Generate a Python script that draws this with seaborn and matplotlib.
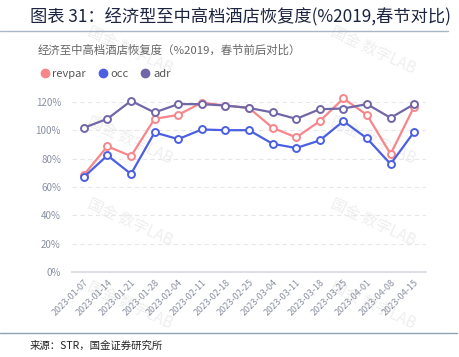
"""Recovery of economy to upper-midscale hotels vs 2019 (Spring Festival aligned)."""

import matplotlib

matplotlib.use("Agg")

import matplotlib.pyplot as plt
import pandas as pd
import seaborn as sns
from matplotlib.lines import Line2D

dates = [
    "2023-01-07", "2023-01-14", "2023-01-21", "2023-01-28", "2023-02-04",
    "2023-02-11", "2023-02-18", "2023-02-25", "2023-03-04", "2023-03-11",
    "2023-03-18", "2023-03-25", "2023-04-01", "2023-04-08", "2023-04-15",
]
revpar = [68.5, 88.7, 81.8, 108.1, 110.9, 119.6, 117.5, 115.8, 101.8, 95.0, 106.5, 122.5, 110.9, 83.2, 116.8]
occ = [67.0, 82.3, 69.2, 98.5, 93.8, 100.6, 100.1, 100.1, 90.5, 87.5, 92.9, 106.5, 94.3, 76.2, 99.0]
adr = [101.8, 108.1, 120.8, 112.6, 118.5, 118.5, 117.5, 115.8, 112.6, 108.1, 114.9, 115.4, 118.5, 108.8, 118.5]

series_names = ["revpar", "occ", "adr"]
colors = {"revpar": "#F7868B", "occ": "#4B5FE2", "adr": "#7167A8"}
y_ticks = [0, 20, 40, 60, 80, 100, 120]

title = "图表 31：经济型至中高档酒店恢复度(%2019,春节对比)"
subtitle = "经济至中高档酒店恢复度（%2019，春节前后对比）"
source = "来源：STR，国金证券研究所"
watermark = "国金 数字LAB"


def build_frame() -> pd.DataFrame:
    frames = []
    for name, vals in zip(series_names, [revpar, occ, adr]):
        frames.append(pd.DataFrame({"date": dates, "value": vals, "series": name}))
    return pd.concat(frames, ignore_index=True)


def main() -> None:
    sns.set_style("white")
    plt.rcParams["font.family"] = ["Noto Sans CJK SC", "DejaVu Sans"]

    df = build_frame()
    W, H = 459, 357
    fig = plt.figure(figsize=(W / 100, H / 100), dpi=100)
    ax = fig.add_axes([72 / W, 1 - 272 / H, 354 / W, 170 / H])
    ax.patch.set_alpha(0)
    ax.set_zorder(2)

    # faint watermarks behind the chart
    for wx in (130, 373):
        for wy in (50, 140, 222, 305):
            fig.text(wx / W, 1 - wy / H, watermark, rotation=-25, ha="center", va="center",
                     fontsize=11, color="#efefef", zorder=-5)

    sns.lineplot(data=df, x="date", y="value", hue="series", hue_order=series_names,
                 palette=colors, marker="o", markersize=5, linewidth=1.6,
                 legend=False, ax=ax, sort=False)
    for line in ax.lines:
        line.set_markerfacecolor("white")
        line.set_markeredgecolor(line.get_color())
        line.set_markeredgewidth(1.4)
        line.set_clip_on(False)

    ax.set_xlim(-0.5, len(dates) - 0.5)
    ax.set_ylim(0, 120)
    ax.set_yticks(y_ticks)
    ax.set_yticklabels([f"{v}%" for v in y_ticks])
    for v in y_ticks[1:]:
        ax.axhline(v, color="#e6e7eb", lw=0.8, ls=(0, (4, 3)), zorder=0)
    ax.set_xticks(range(len(dates)))
    ax.set_xticklabels(dates, rotation=45, ha="right", rotation_mode="anchor")
    ax.tick_params(axis="x", labelsize=6.5, colors="#8a90a2", length=0, pad=4)
    ax.tick_params(axis="y", labelsize=7, colors="#8a90a2", length=0, pad=8)
    ax.set_xlabel("")
    ax.set_ylabel("")
    for side in ("top", "right", "left"):
        ax.spines[side].set_visible(False)
    ax.spines["bottom"].set_color("#d5d8de")
    ax.spines["bottom"].set_linewidth(1.2)

    handles = [Line2D([], [], marker="o", ls="", color=colors[n], markersize=6) for n in series_names]
    fig.legend(handles, series_names, loc="center left", bbox_to_anchor=(28 / W, 1 - 74 / H),
               ncol=3, frameon=False, fontsize=8, handletextpad=0.1, columnspacing=0.9,
               labelcolor="#555555", handlelength=1.2)

    fig.text(30 / W, 1 - 17 / H, title, fontsize=12.4, color="#1c2540",
             va="center", ha="left")
    fig.add_artist(Line2D([0, 448 / W], [1 - 31 / H, 1 - 31 / H], color="#a9b6c6", lw=1.0))
    fig.text(38 / W, 1 - 50 / H, subtitle, fontsize=8.2, color="#666666", va="center", ha="left")
    fig.add_artist(Line2D([0, 457 / W], [1 - 333 / H, 1 - 333 / H], color="#8fa0b5", lw=1.0))
    fig.text(30 / W, 1 - 346 / H, source, fontsize=7.5, color="#222222", va="center", ha="left")

    fig.savefig("out.png", dpi=100)
    plt.close("all")


if __name__ == "__main__":
    main()
